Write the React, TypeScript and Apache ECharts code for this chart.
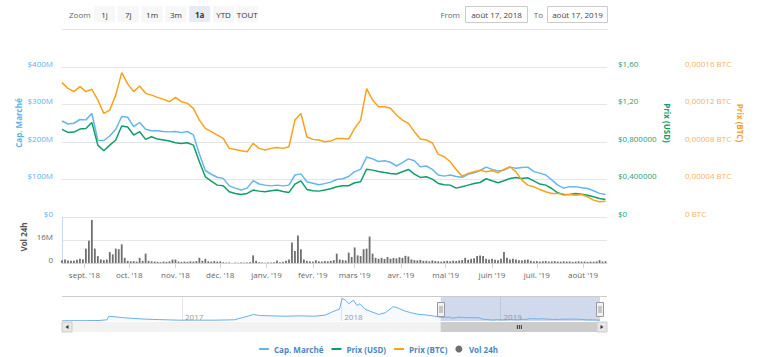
import React, { useEffect, useRef } from 'react';
import * as echarts from 'echarts';

const FONT = "'Open Sans', 'DejaVu Sans', sans-serif";
const DAY_MS = 86400000;
const isoDay = (t: number) => new Date(t).toISOString().slice(0, 10);
function dayRange(start: string, end: string): string[] {
  const out: string[] = [];
  const t1 = Date.parse(end + 'T00:00:00Z');
  for (let t = Date.parse(start + 'T00:00:00Z'); t <= t1; t += DAY_MS) out.push(isoDay(t));
  return out;
}

// ---------- categories ----------
const mainDays = dayRange('2018-08-17', '2019-08-17');
const priceDates = mainDays.filter((_, i) => i % 4 === 0); // 92 samples
const volumeDates = mainDays.filter((_, i) => i % 2 === 0); // 183 samples
const navDays = dayRange('2016-04-01', '2019-08-17');
const selStart = '2018-08-17';
const selEnd = '2019-08-17';

const monthNames = ['janv.', 'févr.', 'mars', 'avr.', 'mai', 'juin', 'juil.', 'août', 'sept.', 'oct.', 'nov.', 'déc.'];
const capTickLabels = ['$0', '$100M', '$200M', '$300M', '$400M'];
const usdTickLabels = ['$0', '$0,400000', '$0,800000', '$1,20', '$1,60'];
const btcTickLabels = ['0 BTC', '0,00004 BTC', '0,00008 BTC', '0,00012 BTC', '0,00016 BTC'];
const volTickLabels = ['0', '16M', ''];
const zoomButtons = ['1j', '7j', '1m', '3m', '1a', 'YTD', 'TOUT'];
const selectedButton = '1a';

// ---------- series values ----------
// Market cap, millions of USD (every 4 days)
const marketCapM = [
  256, 248, 250, 260, 259, 276, 205, 204, 216, 234,
  268, 266, 241, 252, 234, 230, 230, 228, 227, 228,
  225, 228, 219, 168, 124, 114, 106, 103, 83, 77,
  72, 77, 97, 88, 85, 83, 85, 83, 85, 112,
  115, 94, 90, 86, 89, 93, 100, 102, 108, 121,
  127, 160, 155, 148, 150, 146, 136, 145, 155, 150,
  134, 136, 127, 112, 109, 112, 108, 106, 114, 118,
  124, 133, 127, 123, 125, 133, 130, 132, 133, 121,
  117, 112, 99, 85, 77, 81, 81, 78, 76, 70,
  63, 60,
];
// Price in USD (every 4 days)
const priceUsd = [
  0.934, 0.902, 0.906, 0.938, 0.945, 1.009, 0.767, 0.707, 0.767, 0.821,
  0.97, 0.96, 0.874, 0.91, 0.828, 0.856, 0.831, 0.821, 0.81, 0.792,
  0.785, 0.792, 0.767, 0.589, 0.429, 0.383, 0.34, 0.333, 0.269, 0.251,
  0.24, 0.251, 0.287, 0.276, 0.269, 0.279, 0.287, 0.272, 0.262, 0.351,
  0.386, 0.294, 0.279, 0.276, 0.287, 0.301, 0.322, 0.333, 0.333, 0.365,
  0.376, 0.51, 0.5, 0.486, 0.475, 0.465, 0.458, 0.482, 0.507, 0.458,
  0.422, 0.429, 0.404, 0.358, 0.344, 0.34, 0.308, 0.322, 0.34, 0.358,
  0.368, 0.408, 0.386, 0.365, 0.386, 0.411, 0.422, 0.411, 0.418, 0.386,
  0.351, 0.34, 0.304, 0.258, 0.237, 0.24, 0.251, 0.244, 0.233, 0.215,
  0.198, 0.187,
];
// Price in BTC (every 4 days)
const priceBtc = [
  14.33e-5, 13.72e-5, 13.37e-5, 13.9e-5, 13.37e-5, 13.62e-5, 12.48e-5, 11.05e-5, 11.41e-5, 13.0e-5,
  15.4e-5, 14.2e-5, 13.37e-5, 13.97e-5, 13.19e-5, 13.0e-5, 12.76e-5, 12.55e-5, 12.3e-5, 12.76e-5,
  12.3e-5, 12.12e-5, 11.59e-5, 10.34e-5, 9.45e-5, 9.1e-5, 8.74e-5, 8.38e-5, 7.32e-5, 7.21e-5,
  7.07e-5, 6.96e-5, 7.85e-5, 7.32e-5, 7.14e-5, 7.32e-5, 7.42e-5, 7.32e-5, 7.49e-5, 10.34e-5,
  11.05e-5, 8.56e-5, 8.28e-5, 8.21e-5, 8.03e-5, 8.1e-5, 8.38e-5, 8.38e-5, 8.31e-5, 9.45e-5,
  10.34e-5, 13.7e-5, 12.48e-5, 11.77e-5, 11.77e-5, 11.59e-5, 10.88e-5, 10.34e-5, 9.99e-5, 9.1e-5,
  8.31e-5, 8.21e-5, 7.92e-5, 6.68e-5, 6.43e-5, 5.89e-5, 5.07e-5, 4.36e-5, 4.65e-5, 4.82e-5,
  5.0e-5, 4.82e-5, 4.93e-5, 4.75e-5, 5.07e-5, 5.36e-5, 4.82e-5, 3.93e-5, 3.4e-5, 3.22e-5,
  2.94e-5, 2.69e-5, 2.51e-5, 2.51e-5, 2.44e-5, 2.4e-5, 2.33e-5, 2.4e-5, 2.15e-5, 1.8e-5,
  1.62e-5, 1.69e-5,
];
// 24h volume, millions of USD (every 2 days)
const volume24hM = [
  2.0, 2.4, 1.8, 1.5, 1.6, 2.2, 2.9, 2.4, 10, 15.5,
  30, 10, 4.8, 2.5, 2.0, 2.4, 7.6, 6, 10, 9.6,
  13, 3.6, 1.5, 1.2, 1.3, 1.0, 3.6, 1.5, 6.5, 1.5,
  1.2, 1.0, 0.8, 0.6, 1.0, 0.8, 1.2, 2.4, 2.4, 1.0,
  0.8, 1.0, 0.8, 1.2, 1.0, 1.3, 3.6, 1.5, 2.9, 1.2,
  1.0, 1.4, 1.0, 1.2, 0.5, 0.3, 0.4, 0.0, 0.3, 0.2,
  0.4, 0.3, 0.4, 0.6, 5.3, 1.5, 0.5, 0.3, 0.2, 0.4,
  0.3, 0.5, 1.7, 0.6, 0.8, 1.5, 2.4, 14.3, 8.4, 19.1,
  9.6, 2.4, 1.5, 1.2, 1.0, 1.9, 1.2, 1.0, 1.4, 1.2,
  1.5, 2.0, 6.5, 2.4, 2.0, 1.8, 7.2, 4.2, 10.8, 5.3,
  4.8, 9.6, 10, 18.4, 6.5, 3.6, 2.9, 3.6, 2.8, 4.2,
  3.0, 3.5, 3.2, 4.0, 3.6, 5.0, 4.5, 2.5, 2.0, 1.8,
  2.2, 1.5, 1.6, 1.2, 1.8, 1.4, 1.2, 1.0, 1.3, 1.5,
  1.2, 1.6, 1.4, 1.8, 2.0, 3.6, 2.2, 2.9, 3.2, 4.8,
  5.3, 4.8, 3.0, 2.5, 2.9, 2.2, 2.0, 3.0, 7.6, 3.6,
  2.5, 2.9, 2.4, 2.0, 1.8, 2.2, 2.4, 1.5, 1.2, 1.3,
  1.0, 1.2, 1.4, 1.0, 1.1, 1.3, 1.0, 0.9, 1.2, 1.0,
  1.1, 0.8, 1.0, 1.2, 0.9, 1.0, 0.8, 1.0, 0.9, 1.1,
  2.0, 1.0, 1.2,
];
// Navigator history (market cap, millions) before the selected year
const navHistoryDates = [
  '2016-04-01', '2016-04-20', '2016-05-23', '2016-06-25', '2016-07-13', '2016-07-17', '2016-07-27',
  '2016-08-18', '2016-09-09', '2016-10-08', '2016-11-10', '2016-12-24', '2017-02-06', '2017-03-18',
  '2017-05-01', '2017-05-16', '2017-06-03', '2017-06-14', '2017-06-28', '2017-07-28', '2017-08-26',
  '2017-09-28', '2017-10-31', '2017-11-25', '2017-12-13', '2017-12-28', '2018-01-03', '2018-01-11',
  '2018-01-18', '2018-01-29', '2018-02-06', '2018-02-13', '2018-02-24', '2018-03-10', '2018-03-28',
  '2018-04-12', '2018-04-30', '2018-05-11', '2018-05-26', '2018-06-09', '2018-06-28', '2018-07-12',
  '2018-08-03',
];
const navHistoryCapM = [
  10, 22, 22, 34, 83, 328, 304,
  230, 181, 132, 96, 59, 59, 59,
  83, 206, 353, 451, 377, 353, 328,
  353, 328, 402, 647, 818, 1553, 1431,
  1186, 1431, 1063, 1186, 818, 647, 451,
  573, 990, 892, 696, 573, 451, 426,
  328,
];

// ---------- styles ----------
const C = {
  cap: '#65b5ee',
  usd: '#0f9d6b',
  btc: '#f9a11b',
  vol: '#6f6f6f',
  nav: '#6aaee8',
  capLabel: '#5fb1ea',
  usdLabel: '#1f9e73',
  btcLabel: '#f8b25e',
  grid: '#e6e6e6',
  axis: '#ccd6eb',
  legendText: '#4a86c5',
};

const zip = (xs: string[], ys: number[]) => ys.map((y, i) => [xs[i], y]);
const isMonthStart = (_: number, v: string) => v.slice(8) === '01';
const isYearStart = (_: number, v: string) => v.slice(5) === '01-01';
const fmtMonth = (v: string) => `${monthNames[+v.slice(5, 7) - 1]} '${v.slice(2, 4)}`;
const LINE_ICON = 'path://M0,0L0,0M0,2.5L10,2.5L10,4.5L0,4.5ZM10,7L10,7';

const baseLabel = { fontSize: 8, fontFamily: FONT };

function buildOption() {
  const capPairs = zip(priceDates, marketCapM);
  return {
    animation: false,
    textStyle: { fontFamily: FONT },
    grid: [
      { left: 62, top: 67, width: 545, height: 150 },
      { left: 62, top: 217, width: 545, height: 46 },
      { left: 62, top: 297, width: 538, height: 24 },
    ],
    xAxis: [
      { gridIndex: 0, type: 'category', data: mainDays, boundaryGap: false, show: false },
      {
        gridIndex: 1, type: 'category', data: mainDays, boundaryGap: false,
        axisLine: { lineStyle: { color: C.axis } },
        axisTick: { interval: isMonthStart, length: 5, lineStyle: { color: C.axis } },
        axisLabel: { ...baseLabel, interval: isMonthStart, formatter: fmtMonth, color: '#666', margin: 7 },
        splitLine: { show: false },
      },
      {
        gridIndex: 2, type: 'category', data: navDays, boundaryGap: false,
        axisLine: { show: false }, axisTick: { show: false },
        axisLabel: {
          ...baseLabel, interval: isYearStart, inside: true, margin: 1, align: 'left',
          padding: [0, 0, 0, 3], color: '#999', formatter: (v: string) => v.slice(0, 4),
        },
        splitLine: { show: true, interval: isYearStart, lineStyle: { color: C.grid } },
      },
    ],
    yAxis: [
      {
        gridIndex: 0, type: 'value', min: 0, max: 400, interval: 100, position: 'left',
        axisLine: { show: false }, axisTick: { show: false },
        splitLine: { lineStyle: { color: C.grid } },
        axisLabel: { ...baseLabel, color: C.capLabel, margin: 9, verticalAlign: 'bottom', formatter: (_: number, i: number) => capTickLabels[i] },
      },
      {
        gridIndex: 0, type: 'value', min: 0, max: 1.6, interval: 0.4, position: 'right',
        axisLine: { show: false }, axisTick: { show: false }, splitLine: { show: false },
        axisLabel: { ...baseLabel, color: C.usdLabel, margin: 11, verticalAlign: 'bottom', formatter: (_: number, i: number) => usdTickLabels[i] },
      },
      {
        gridIndex: 0, type: 'value', min: 0, max: 16e-5, interval: 4e-5, position: 'right', offset: 67,
        axisLine: { show: false }, axisTick: { show: false }, splitLine: { show: false },
        axisLabel: { ...baseLabel, color: C.btcLabel, margin: 11, verticalAlign: 'bottom', formatter: (_: number, i: number) => btcTickLabels[i] },
      },
      {
        gridIndex: 1, type: 'value', min: 0, max: 32, interval: 16, position: 'left',
        axisLine: { show: true, lineStyle: { color: C.axis } }, axisTick: { show: false },
        splitLine: { lineStyle: { color: C.grid } },
        axisLabel: { ...baseLabel, color: '#666', margin: 9, verticalAlign: 'bottom', formatter: (_: number, i: number) => volTickLabels[i] },
      },
      { gridIndex: 2, type: 'value', min: 0, max: 1650, show: false },
    ],
    legend: {
      left: 254, top: 340, itemWidth: 10, itemHeight: 7, itemGap: 8, selectedMode: false,
      textStyle: { color: C.legendText, fontSize: 8, fontWeight: 'bold', fontFamily: FONT },
      data: [
        { name: 'Cap. Marché', icon: LINE_ICON },
        { name: 'Prix (USD)', icon: LINE_ICON },
        { name: 'Prix (BTC)', icon: LINE_ICON },
        { name: 'Vol 24h', icon: 'circle' },
      ],
    },
    series: [
      {
        name: 'Cap. Marché', type: 'line', xAxisIndex: 0, yAxisIndex: 0, data: capPairs,
        symbol: 'none', lineStyle: { width: 1.5, color: C.cap }, itemStyle: { color: C.cap },
      },
      {
        name: 'Prix (USD)', type: 'line', xAxisIndex: 0, yAxisIndex: 1, data: zip(priceDates, priceUsd),
        symbol: 'none', lineStyle: { width: 1.5, color: C.usd }, itemStyle: { color: C.usd },
      },
      {
        name: 'Prix (BTC)', type: 'line', xAxisIndex: 0, yAxisIndex: 2, data: zip(priceDates, priceBtc),
        symbol: 'none', lineStyle: { width: 1.5, color: C.btc }, itemStyle: { color: C.btc },
      },
      {
        name: 'Vol 24h', type: 'bar', xAxisIndex: 1, yAxisIndex: 3, data: zip(volumeDates, volume24hM),
        barWidth: 1.8, itemStyle: { color: C.vol },
      },
      {
        name: 'navigator', type: 'line', xAxisIndex: 2, yAxisIndex: 4, silent: true,
        data: [...zip(navHistoryDates, navHistoryCapM), ...capPairs],
        symbol: 'none', lineStyle: { width: 1, color: C.nav }, itemStyle: { color: C.nav },
        areaStyle: { color: 'rgba(124,181,236,0.1)' },
        markArea: {
          silent: true,
          itemStyle: { color: 'rgba(102,133,194,0.3)' },
          data: [[{ xAxis: selStart }, { xAxis: selEnd }]],
        },
      },
    ],
  };
}

function text(id: string, x: number, y: number, t: string, style: any = {}, extra: any = {}) {
  return {
    id, type: 'text', x, y, z: 100, ...extra,
    style: { text: t, fontSize: 8, fontFamily: FONT, fill: '#666', align: 'left', verticalAlign: 'middle', ...style },
  };
}
function rect(id: string, x: number, y: number, w: number, h: number, style: any) {
  return { id, type: 'rect', z: 100, shape: { x, y, width: w, height: h }, style };
}

function buildGraphics(xs: number, xe: number) {
  const els: any[] = [];
  // zoom toolbar
  els.push(text('zoomLbl', 69, 14, 'Zoom'));
  zoomButtons.forEach((b, i) => {
    const bx = 94 + i * 23.8;
    const sel = b === selectedButton;
    els.push(rect('zb' + i, bx, 6, 21, 16, { fill: sel ? '#e6ebf5' : '#f7f7f7', stroke: 'none' }));
    els.push(text('zt' + i, bx + 10.5, 14, b, { fill: '#333', align: 'center', fontWeight: sel ? 'bold' : 'normal' }));
  });
  els.push(text('fromLbl', 460, 14, 'From', { align: 'right' }));
  els.push(rect('fromBox', 465.5, 6.5, 62, 16, { fill: '#fff', stroke: '#cccccc', lineWidth: 1 }));
  els.push(text('fromTxt', 496.5, 14.5, 'août 17, 2018', { align: 'center', fill: '#444' }));
  els.push(text('toLbl', 543, 14, 'To', { align: 'right' }));
  els.push(rect('toBox', 547.5, 6.5, 60, 16, { fill: '#fff', stroke: '#cccccc', lineWidth: 1 }));
  els.push(text('toTxt', 577.5, 14.5, 'août 17, 2019', { align: 'center', fill: '#444' }));
  els.push({ id: 'sep', type: 'line', z: 100, shape: { x1: 62, y1: 29.5, x2: 608, y2: 29.5 }, style: { stroke: '#e6e6e6', lineWidth: 1 } });

  // axis titles
  els.push(text('capTitle', 18, 123, 'Cap. Marché', { fill: C.capLabel, fontWeight: 'bold', align: 'center' }, { rotation: Math.PI / 2 }));
  els.push(text('volTitle', 23, 237, 'Vol 24h', { fill: '#555', fontWeight: 'bold', align: 'center' }, { rotation: Math.PI / 2 }));
  els.push(text('usdTitle', 667, 123, 'Prix (USD)', { fill: C.usd, fontWeight: 'bold', align: 'center' }, { rotation: -Math.PI / 2 }));
  els.push(text('btcTitle', 740, 123, 'Prix (BTC)', { fill: C.btc, fontWeight: 'bold', align: 'center' }, { rotation: -Math.PI / 2 }));

  // navigator outline + handles
  els.push({ id: 'navTop', type: 'line', z: 100, shape: { x1: 62, y1: 296.5, x2: 607, y2: 296.5 }, style: { stroke: '#cccccc', lineWidth: 1 } });
  [xs, xe].forEach((hx, i) => {
    const x0 = Math.round(hx) - 3.5;
    els.push(rect('h' + i, x0, 302.5, 7, 14, { fill: '#f2f2f2', stroke: '#999999', lineWidth: 1 }));
    els.push({ id: 'hl' + i + 'a', type: 'line', z: 101, shape: { x1: x0 + 2.5, y1: 306, x2: x0 + 2.5, y2: 313 }, style: { stroke: '#999', lineWidth: 1 } });
    els.push({ id: 'hl' + i + 'b', type: 'line', z: 101, shape: { x1: x0 + 4.5, y1: 306, x2: x0 + 4.5, y2: 313 }, style: { stroke: '#999', lineWidth: 1 } });
  });

  // scrollbar
  const sy = 322, sh = 10;
  els.push(rect('sbBg', 62, sy, 545, sh, { fill: '#f2f2f2', stroke: 'none' }));
  const thumbL = Math.max(xs, 72), thumbR = Math.min(xe, 597);
  els.push(rect('sbThumb', thumbL, sy, thumbR - thumbL, sh, { fill: '#cccccc', stroke: 'none' }));
  const mid = (thumbL + thumbR) / 2;
  [-2, 0, 2].forEach((d, i) => {
    els.push({ id: 'grip' + i, type: 'line', z: 101, shape: { x1: mid + d + 0.5, y1: sy + 3, x2: mid + d + 0.5, y2: sy + sh - 3 }, style: { stroke: '#333', lineWidth: 1 } });
  });
  els.push(rect('sbL', 62, sy, 10, sh, { fill: '#e6e6e6', stroke: '#cccccc', lineWidth: 1 }));
  els.push(rect('sbR', 597, sy, 10, sh, { fill: '#e6e6e6', stroke: '#cccccc', lineWidth: 1 }));
  els.push({ id: 'arL', type: 'polygon', z: 101, shape: { points: [[68.5, sy + 3], [68.5, sy + 7], [65.5, sy + 5]] }, style: { fill: '#333' } });
  els.push({ id: 'arR', type: 'polygon', z: 101, shape: { points: [[600.5, sy + 3], [600.5, sy + 7], [603.5, sy + 5]] }, style: { fill: '#333' } });
  return els;
}

export default function App() {
  const ref = useRef<HTMLDivElement>(null);
  useEffect(() => {
    document.body.style.margin = '0';
    const chart = echarts.init(ref.current!, undefined, { renderer: 'svg' });
    chart.setOption(buildOption() as any);
    const xs = chart.convertToPixel({ xAxisIndex: 2 } as any, navDays.indexOf(selStart)) as unknown as number;
    const xe = chart.convertToPixel({ xAxisIndex: 2 } as any, navDays.indexOf(selEnd)) as unknown as number;
    chart.setOption({ graphic: { elements: buildGraphics(xs, xe) } } as any);
    return () => chart.dispose();
  }, []);
  return <div ref={ref} style={{ width: 768, height: 357 }} />;
}
